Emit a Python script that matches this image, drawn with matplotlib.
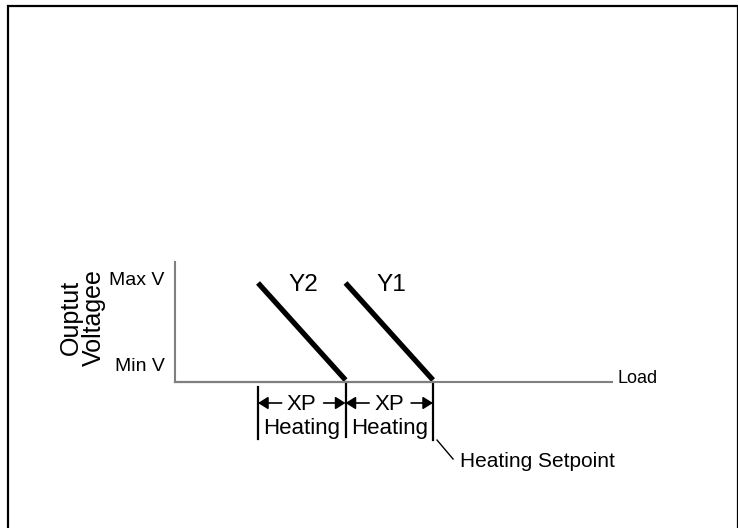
import matplotlib
matplotlib.use("Agg")
import matplotlib.pyplot as plt
from matplotlib.patches import Rectangle

plt.rcParams['font.family'] = ['Liberation Sans', 'DejaVu Sans']

# --------------------------
# DATA
# --------------------------
series_names = ['Y2', 'Y1']
load_at_max = [1.0, 2.0]     # load where output is at Max V
load_at_min = [2.0, 3.0]     # load where output drops to Min V
volt_max = [1.0, 1.0]
volt_min = [0.0, 0.0]
ytick_values = [0.0, 1.0]
ytick_labels = ['Min V', 'Max V']
xp_bounds = [1.0, 2.0, 3.0]  # band edges of the two XP heating bands
xp_labels = ['XP', 'XP']
band_labels = ['Heating', 'Heating']
setpoint = 3.0

# --------------------------
# FIGURE
# --------------------------
fig = plt.figure(figsize=(7.38, 5.28), dpi=100)

# outer frame
fig.patches.append(Rectangle((8 / 738, -0.02), 729.5 / 738, (522 / 528) + 0.02,
                             transform=fig.transFigure, fill=False,
                             edgecolor='black', linewidth=1.6))

ax = fig.add_axes([175 / 738, 146 / 528, 437 / 738, 120 / 528])
ax.set_xlim(0.051, 5.046)
ax.set_ylim(-0.0206, 1.216)
ax.set_facecolor('none')
for side in ['top', 'right']:
    ax.spines[side].set_visible(False)
ax.spines['left'].set_color('#808080')
ax.spines['left'].set_linewidth(1.5)
ax.spines['bottom'].set_color('#808080')
ax.spines['bottom'].set_linewidth(1.5)
ax.set_xticks([])
ax.set_yticks([])

# darker part of the load axis up to the setpoint
ax.plot([0.051, setpoint], [-0.0206, -0.0206], color='#222222',
        linewidth=1.5, clip_on=False)

# output lines
for name, x0, x1, v0, v1 in zip(series_names, load_at_max, load_at_min,
                                volt_max, volt_min):
    ax.plot([x0, x1], [v0, v1], color='black', linewidth=3.8,
            solid_capstyle='butt', clip_on=False)
    ax.text(x0 + 0.52, v0 - 0.026, name, fontsize=17.5, ha='center',
            va='center')

# y labels
for v, lab in zip(ytick_values, ytick_labels):
    ax.text(-0.07, v + (0.144 if v == 0 else 0.03), lab, fontsize=14,
            ha='right', va='center')

ax.text(-1.011, 0.64, 'Ouptut\nVoltagee', fontsize=18, rotation=90,
        ha='center', va='center', linespacing=0.95, multialignment='center')

ax.text(5.114, 0.02, 'Load', fontsize=13, ha='left', va='center')

# XP band markers
tick_tops = [-0.072, -0.02, -0.02]
tick_bottoms = [-0.608, -0.588, -0.619]
for xb, t, b in zip(xp_bounds, tick_tops, tick_bottoms):
    ax.plot([xb, xb], [t, b], color='black', linewidth=1.6, clip_on=False)

arrow_y = -0.237
head = '-|>,head_length=0.4,head_width=0.25'
for i in range(len(xp_labels)):
    a, b = xp_bounds[i], xp_bounds[i + 1]
    mid = (a + b) / 2
    ax.annotate('', xy=(a, arrow_y), xytext=(a + 0.27, arrow_y),
                arrowprops=dict(arrowstyle=head, color='black', lw=1.2,
                                mutation_scale=15, shrinkA=0, shrinkB=0),
                annotation_clip=False)
    ax.annotate('', xy=(b, arrow_y), xytext=(b - 0.25, arrow_y),
                arrowprops=dict(arrowstyle=head, color='black', lw=1.2,
                                mutation_scale=15, shrinkA=0, shrinkB=0),
                annotation_clip=False)
    ax.text(mid, -0.253, xp_labels[i], fontsize=16, ha='center',
            va='center')
    ax.text(mid, -0.495, band_labels[i], fontsize=16, ha='center',
            va='center')

# setpoint callout
ax.plot([setpoint + 0.046, setpoint + 0.229], [-0.619, -0.814],
        color='black', linewidth=1.0, clip_on=False)
ax.text(setpoint + 0.309, -0.835, 'Heating Setpoint', fontsize=15,
        ha='left', va='center')

fig.savefig('out.png', dpi=100)
